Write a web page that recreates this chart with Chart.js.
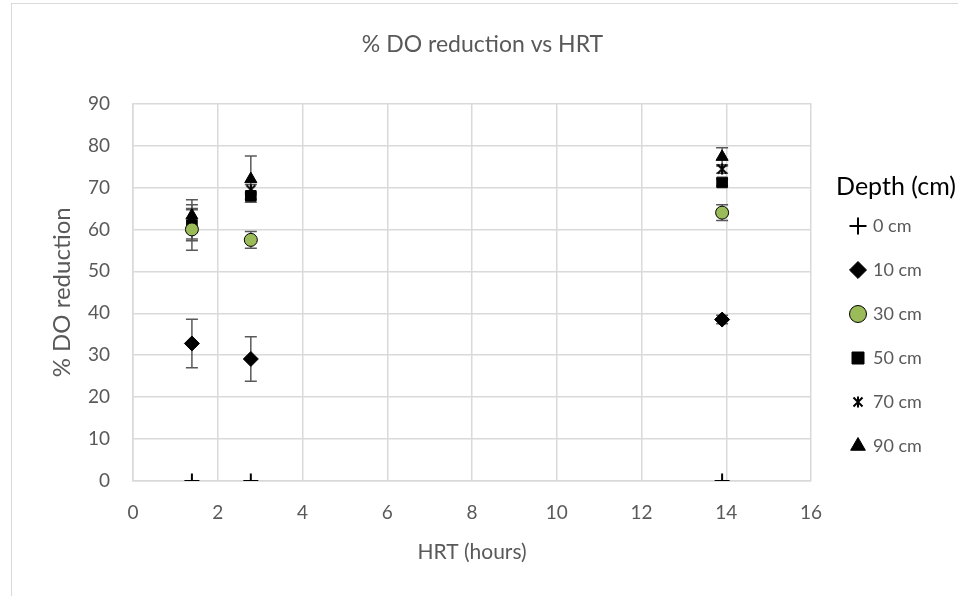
<!DOCTYPE html>
<html>
<head>
<meta charset="utf-8">
<script src="https://cdn.jsdelivr.net/npm/chart.js@4"></script>
<style>
  html, body { margin: 0; padding: 0; background: #fff; }
  #wrap { position: relative; width: 958px; height: 596px; overflow: hidden; }
  #frame { position: absolute; left: 11px; top: 3px; width: 1000px; height: 700px; border: 1px solid #d9d9d9; box-sizing: border-box; }
  canvas { position: absolute; left: 0; top: 0; }
</style>
</head>
<body>
<div id="wrap">
  <div id="frame"></div>
  <canvas id="chart" width="958" height="596"></canvas>
</div>
<script>
  // data
  const hrt = [1.39, 2.78, 13.9]
  const depthLabels = ['0 cm', '10 cm', '30 cm', '50 cm', '70 cm', '90 cm']

  const red0 = [0, 0, 0]
  const red10 = [32.8, 29.1, 38.5]
  const red30 = [60.0, 57.5, 64.0]
  const red50 = [61.0, 68.0, 71.2]
  const red70 = [61.8, 69.5, 74.4]
  const red90 = [63.3, 72.0, 77.3]

  const err0 = [0, 0, 0]
  const err10 = [5.8, 5.3, 1.0]
  const err30 = [5.0, 2.0, 1.9]
  const err50 = [3.7, 0.8, 0.8]
  const err70 = [4.1, 1.2, 1.0]
  const err90 = [3.8, 5.5, 2.2]

  const xTicks = [0, 2, 4, 6, 8, 10, 12, 14, 16]
  const yTicks = [0, 10, 20, 30, 40, 50, 60, 70, 80, 90]

  const grey = '#595959'
  const gridCol = '#d9d9d9'
  const font = 'Lato, "Open Sans", sans-serif'

  // excel style star marker: X with a vertical bar
  function starMarker(size) {
    const c = document.createElement('canvas')
    c.width = size
    c.height = size
    const g = c.getContext('2d')
    const m = 1.5
    g.strokeStyle = '#000'
    g.lineWidth = 2
    g.beginPath()
    g.moveTo(m, m); g.lineTo(size - m, size - m)
    g.moveTo(size - m, m); g.lineTo(m, size - m)
    g.moveTo(size / 2, 0.5); g.lineTo(size / 2, size - 0.5)
    g.stroke()
    return c
  }

  function pts(ys) {
    return hrt.map((x, i) => ({ x: x, y: ys[i] }))
  }

  const errorBars = {
    id: 'errorBars',
    beforeDatasetsDraw(chart) {
      const ctx = chart.ctx
      const xs = chart.scales.x
      const ys = chart.scales.y
      ctx.save()
      ctx.strokeStyle = '#595959'
      ctx.lineWidth = 1.5
      chart.data.datasets.forEach(ds => {
        if (!ds.errors) return
        ds.data.forEach((p, i) => {
          const e = ds.errors[i]
          if (!e) return
          const px = xs.getPixelForValue(p.x)
          const top = ys.getPixelForValue(p.y + e)
          const bot = ys.getPixelForValue(p.y - e)
          ctx.beginPath()
          ctx.moveTo(px, top); ctx.lineTo(px, bot)
          ctx.moveTo(px - 6, top); ctx.lineTo(px + 6, top)
          ctx.moveTo(px - 6, bot); ctx.lineTo(px + 6, bot)
          ctx.stroke()
        })
      })
      ctx.restore()
    }
  }

  // put the legend box where excel had it
  const legendPlace = {
    id: 'legendPlace',
    afterLayout(chart) {
      const lg = chart.legend
      lg.left = 826
      lg.width = 140
      lg.right = lg.left + lg.width
      lg.top = 174
      lg.bottom = 596
      lg.height = lg.bottom - lg.top
    }
  }

  const series = [
    { data: red0, err: err0, style: 'cross', r: 7.5, fill: '#000', border: '#000', bw: 2 },
    { data: red10, err: err10, style: 'rectRot', r: 7.5, fill: '#000', border: '#000', bw: 1 },
    { data: red30, err: err30, style: 'circle', r: 6.5, fill: '#9bbb59', border: '#000', bw: 1 },
    { data: red50, err: err50, style: 'rect', r: 7.5, fill: '#000', border: '#000', bw: 1 },
    { data: red70, err: err70, style: starMarker(12), r: 6, fill: '#000', border: '#000', bw: 1 },
    { data: red90, err: err90, style: 'triangle', r: 7, fill: '#000', border: '#000', bw: 1 }
  ]

  new Chart(document.getElementById('chart'), {
    type: 'scatter',
    data: {
      datasets: series.map((s, i) => ({
        label: depthLabels[i],
        data: pts(s.data),
        errors: s.err,
        pointStyle: s.style,
        pointRadius: s.r,
        pointHoverRadius: s.r,
        backgroundColor: s.fill,
        borderColor: s.border,
        pointBorderWidth: s.bw,
        showLine: false
      }))
    },
    options: {
      responsive: false,
      animation: false,
      layout: { padding: { left: 48, right: 41, top: 14, bottom: 27 } },
      plugins: {
        tooltip: { enabled: false },
        title: {
          display: true,
          text: '% DO reduction vs HRT',
          color: grey,
          font: { family: font, size: 23, weight: 'normal' },
          padding: { top: 17, bottom: 45 }
        },
        legend: {
          position: 'right',
          align: 'start',
          title: {
            display: true,
            text: 'Depth (cm)',
            color: '#000',
            font: { family: font, size: 25, weight: 'normal' },
            padding: { top: 0, bottom: -13 }
          },
          labels: {
            usePointStyle: true,
            color: grey,
            font: { family: font, size: 18 },
            boxWidth: 12,
            boxHeight: 12,
            padding: 26
          }
        }
      },
      scales: {
        x: {
          type: 'linear',
          min: 0,
          max: 16,
          afterBuildTicks: sc => { sc.ticks = xTicks.map(v => ({ value: v })) },
          afterFit: sc => { sc.height = 88 },
          grid: { color: gridCol, lineWidth: 1.5, drawTicks: false },
          border: { color: gridCol, width: 1.5 },
          ticks: { color: grey, font: { family: font, size: 19 }, padding: 20 },
          title: { display: true, text: 'HRT (hours)', color: grey, font: { family: font, size: 21 }, padding: { top: 8, bottom: 4 } }
        },
        y: {
          min: 0,
          max: 90,
          afterBuildTicks: sc => { sc.ticks = yTicks.map(v => ({ value: v })) },
          afterFit: sc => { sc.width = 85 },
          grid: { color: gridCol, lineWidth: 1.5, drawTicks: false },
          border: { color: gridCol, width: 1.5 },
          ticks: { color: grey, font: { family: font, size: 19 }, padding: 23 },
          title: { display: true, text: '% DO reduction', color: grey, font: { family: font, size: 24 }, padding: { top: 0, bottom: 0 } }
        }
      }
    },
    plugins: [errorBars, legendPlace]
  })
</script>
</body>
</html>
